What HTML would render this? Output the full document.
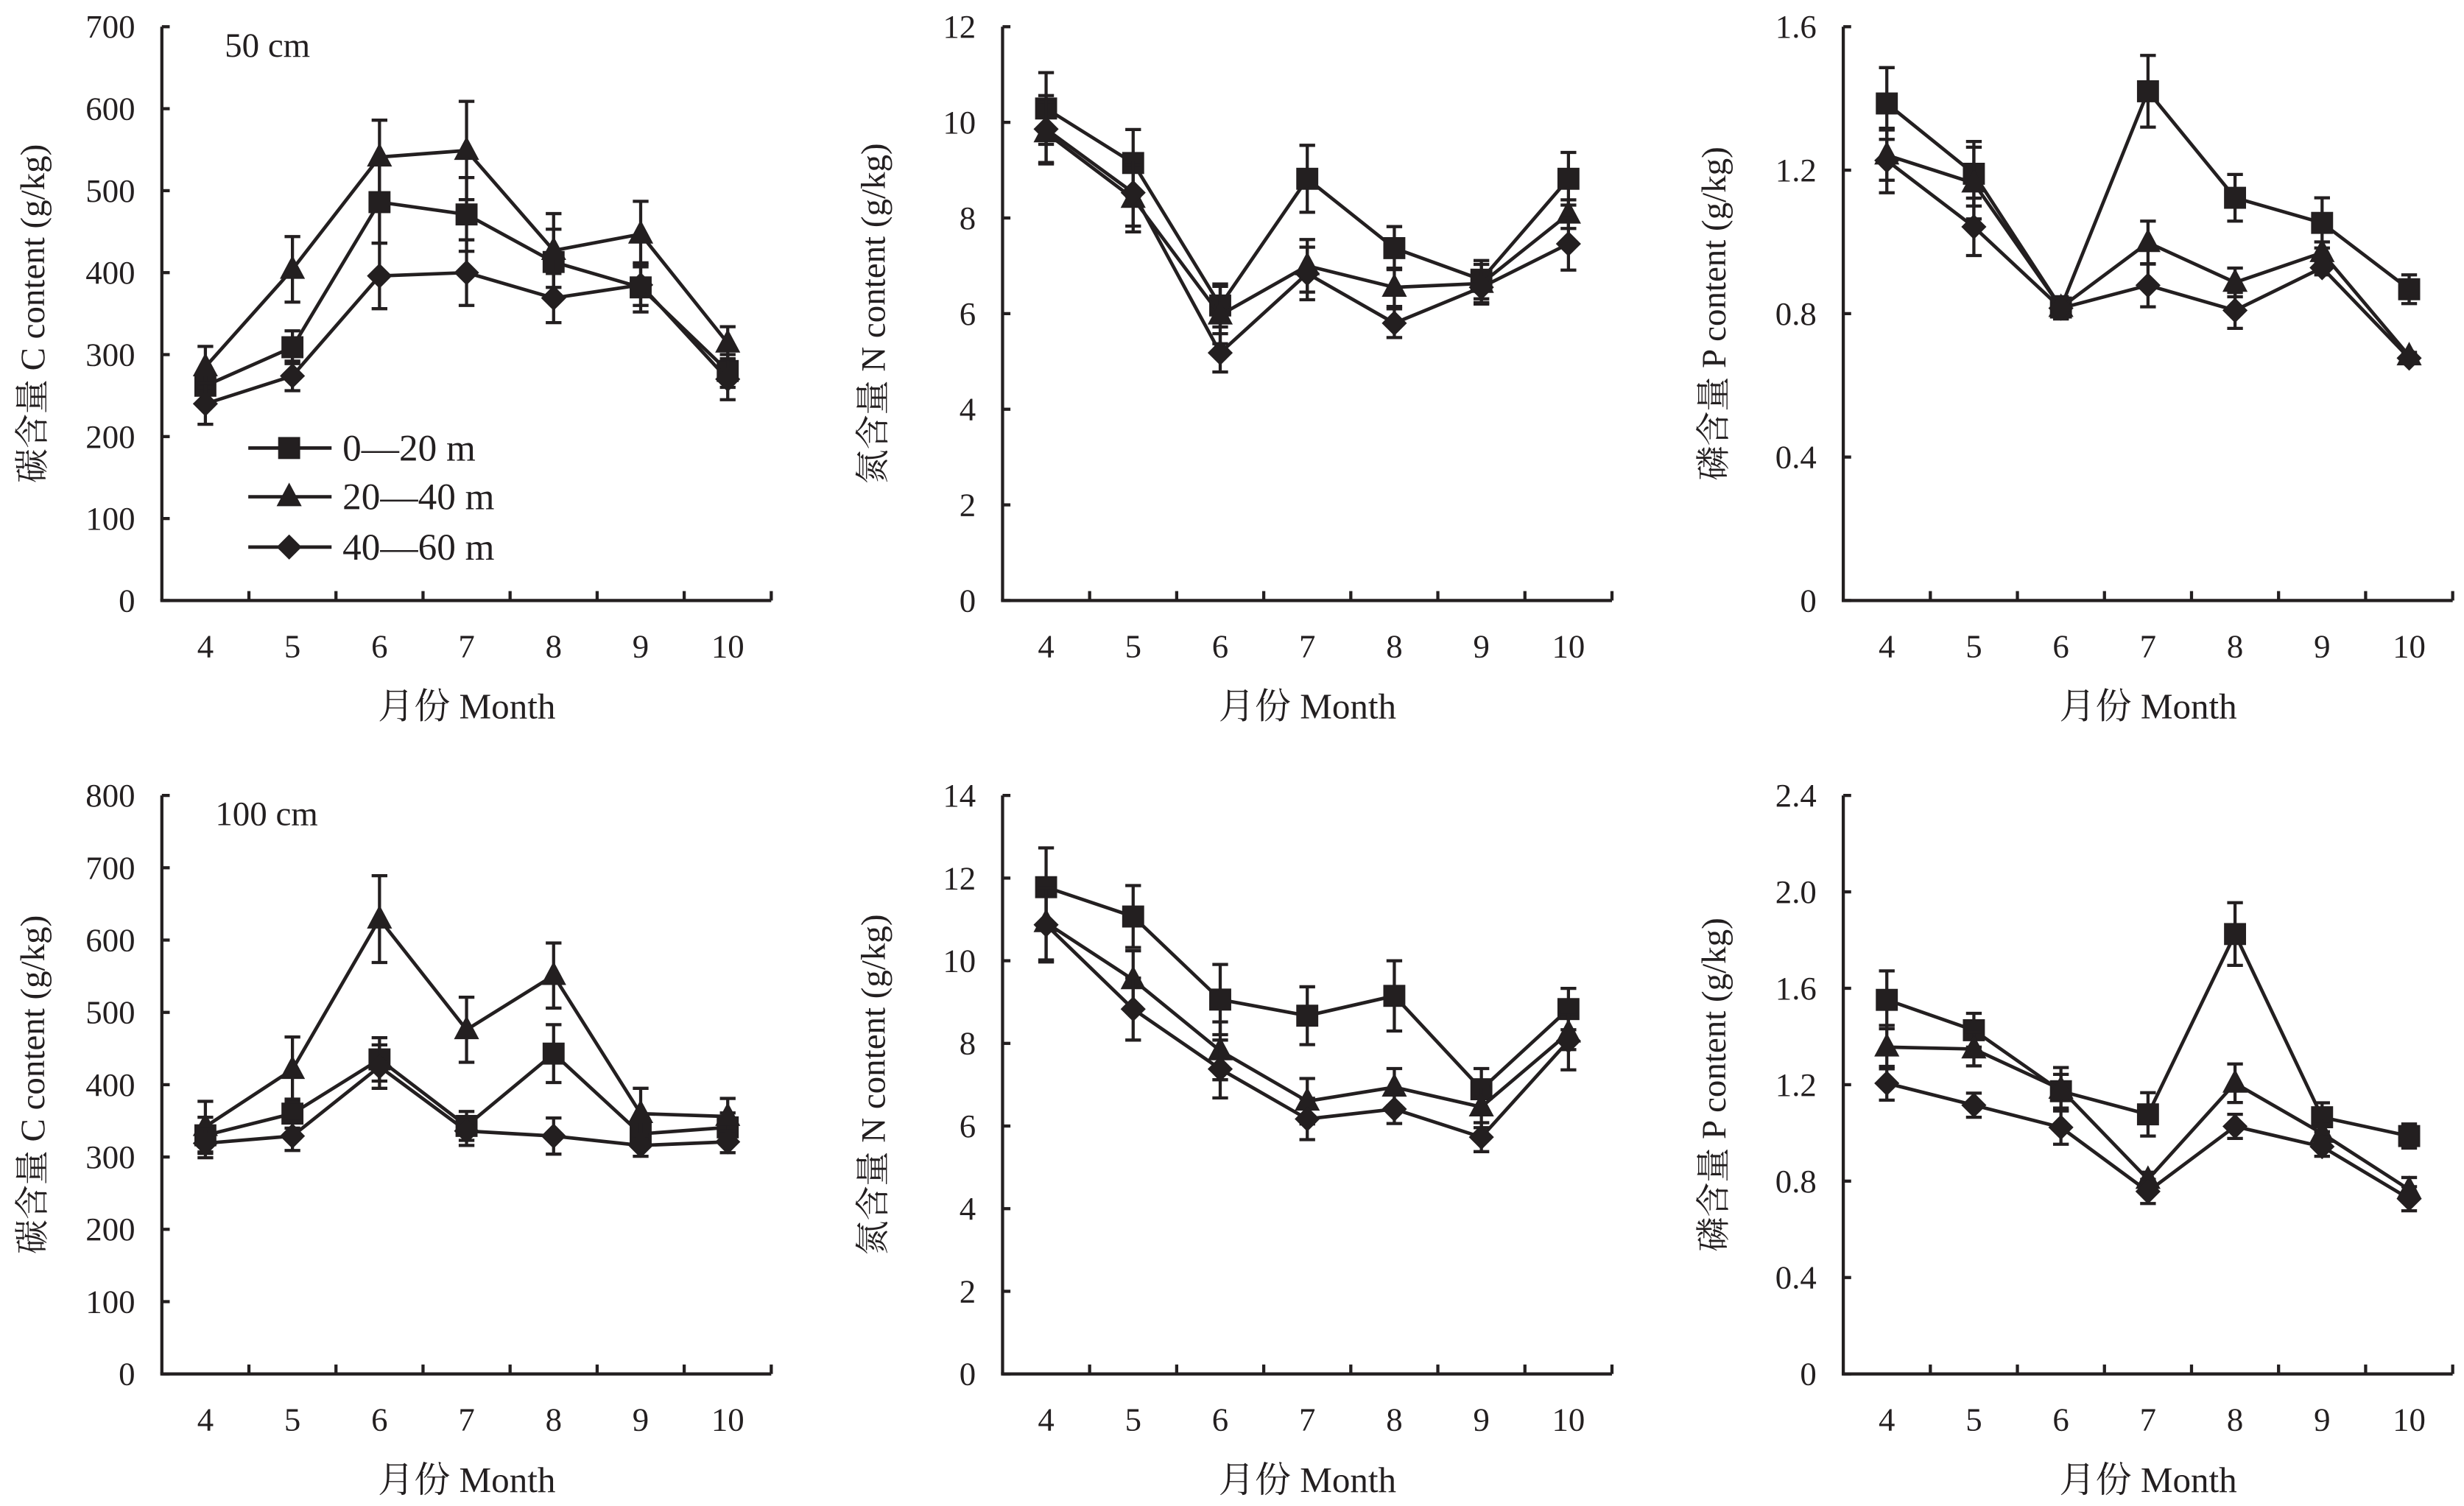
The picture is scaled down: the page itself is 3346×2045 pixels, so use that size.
<!DOCTYPE html>
<html><head><meta charset="utf-8">
<style>
html,body{margin:0;padding:0;background:#fff;}
svg{display:block;}
text{font-family:"Liberation Serif","Noto Serif CJK SC",serif;fill:#231f20;}
</style></head>
<body>
<svg id="chart" width="3346" height="2045" viewBox="0 0 1568 958" preserveAspectRatio="none" xmlns="http://www.w3.org/2000/svg"></svg>
<script>
const months = [4,5,6,7,8,9,10];
// C 50 cm
const c50Sq  = [262,309,486,471,413,382,280];
const c50Tri = [285,404,541,549,427,447,314];
const c50Dia = [240,274,396,400,369,385,270];
const c50SqErr  = [20,20,50,45,40,30,20];
const c50TriErr = [25,40,45,60,45,40,20];
const c50DiaErr = [25,18,40,40,30,25,25];
// N 50 cm
const n50Sq  = [10.29,9.15,6.17,8.82,7.37,6.71,8.82];
const n50Tri = [9.78,8.41,5.97,7.0,6.55,6.63,8.08];
const n50Dia = [9.86,8.53,5.18,6.84,5.8,6.55,7.46];
const n50SqErr  = [0.75,0.7,0.45,0.7,0.45,0.4,0.55];
const n50TriErr = [0.65,0.7,0.6,0.55,0.4,0.4,0.3];
const n50DiaErr = [0.7,0.7,0.4,0.55,0.3,0.35,0.55];
// P 50 cm
const p50Sq  = [1.386,1.19,0.817,1.42,1.123,1.053,0.868];
const p50Tri = [1.242,1.164,0.817,0.998,0.887,0.97,0.682];
const p50Dia = [1.227,1.042,0.815,0.879,0.809,0.928,0.676];
const p50SqErr  = [0.1,0.09,0.03,0.1,0.065,0.07,0.04];
const p50TriErr = [0.07,0.1,0.03,0.06,0.04,0.03,0.01];
const p50DiaErr = [0.09,0.08,0.03,0.06,0.05,0.02,0.01];
// C 100 cm
const c100Sq  = [330,360,435,343,443,332,341];
const c100Tri = [342,421,629,476,551,360,356];
const c100Dia = [319,329,425,336,329,316,321];
const c100SqErr  = [25,20,30,20,40,20,20];
const c100TriErr = [35,45,60,45,45,35,25];
const c100DiaErr = [20,20,30,20,25,15,15];
// N 100 cm
const n100Sq  = [11.78,11.07,9.06,8.67,9.15,6.89,8.83];
const n100Tri = [10.92,9.54,7.82,6.6,6.94,6.46,8.25];
const n100Dia = [10.87,8.83,7.38,6.17,6.41,5.73,8.06];
const n100SqErr  = [0.95,0.75,0.85,0.7,0.85,0.5,0.5];
const n100TriErr = [0.9,0.7,0.7,0.55,0.45,0.5,0.4];
const n100DiaErr = [0.9,0.75,0.7,0.5,0.35,0.35,0.7];
// P 100 cm
const p100Sq  = [1.552,1.426,1.173,1.077,1.825,1.065,0.987];
const p100Tri = [1.356,1.348,1.181,0.807,1.206,0.998,0.765];
const p100Dia = [1.206,1.115,1.023,0.757,1.027,0.943,0.727];
const p100SqErr  = [0.12,0.07,0.07,0.09,0.13,0.06,0.05];
const p100TriErr = [0.09,0.07,0.09,0.03,0.08,0.05,0.05];
const p100DiaErr = [0.07,0.05,0.07,0.05,0.05,0.04,0.05];

const cTicks50 = ["0","100","200","300","400","500","600","700"];
const nTicks50 = ["0","2","4","6","8","10","12"];
const pTicks50 = ["0","0.4","0.8","1.2","1.6"];
const cTicks100 = ["0","100","200","300","400","500","600","700","800"];
const nTicks100 = ["0","2","4","6","8","10","12","14"];
const pTicks100 = ["0","0.4","0.8","1.2","1.6","2.0","2.4"];

const NS="http://www.w3.org/2000/svg";
const svg=document.getElementById('chart');
const INK="#231f20";
const FONT='"Liberation Serif","Noto Serif CJK SC",serif';
function mk(tag,attrs,parent){const e=document.createElementNS(NS,tag);for(const k in attrs)e.setAttribute(k,attrs[k]);if(tag==='text')e.setAttribute('font-family',FONT);(parent||svg).appendChild(e);return e;}

function panel(o){
  const g=mk('g',{});
  
  
  const step=55.4, x0=o.ax, right=x0+step*7;
  const ymax=parseFloat(o.ticks[o.ticks.length-1]);
  const X=i=>x0+step*(i+0.5);
  const Y=v=>o.bot-(v/ymax)*(o.bot-o.top);
  const ya=mk('line',{x1:x0,y1:o.top,x2:x0,y2:o.bot,stroke:INK,'stroke-width':2},g);
  
  
  const xa=mk('line',{x1:x0-1,y1:o.bot,x2:right,y2:o.bot,stroke:INK,'stroke-width':2},g);
  
  
  o.ticks.forEach(t=>{
    const y=Y(parseFloat(t));
    mk('line',{x1:x0,y1:y,x2:x0+5,y2:y,stroke:INK,'stroke-width':2},g);
    const tx=mk('text',{x:x0-17,y:y+7,'text-anchor':'end','font-size':21},g);
    tx.textContent=t;
    
    
  });
  for(let i=1;i<=7;i++){mk('line',{x1:x0+step*i,y1:o.bot,x2:x0+step*i,y2:o.bot-6,stroke:INK,'stroke-width':2},g);}
  months.forEach((m,i)=>{
    const tx=mk('text',{x:X(i),y:o.bot+36,'text-anchor':'middle','font-size':21},g);
    tx.textContent=m;
    
    
  });
  const xt=mk('text',{x:x0+194,y:o.bot+75,'text-anchor':'middle','font-size':23},g);
  xt.textContent='月份 Month';
  
  
  const cy=(o.top+o.bot)/2;
  const yt=mk('text',{x:0,y:0,'text-anchor':'middle','font-size':22,transform:`translate(${x0-75},${cy}) rotate(-90)`},g);
  yt.textContent=o.ytitle;
  
  
  if(o.label){
    const lb=mk('text',{x:o.lx,y:o.top+19,'font-size':22},g);
    lb.textContent=o.label;
    
    
  }
  const series=[['square',o.sq,o.sqe],['triangle',o.tri,o.trie],['diamond',o.dia,o.diae]];
  series.forEach(([shape,vals,errs])=>{
    const sg=mk('g',{},g);
    
    
    vals.forEach((v,i)=>{
      const x=X(i),y1=Y(v+errs[i]),y2=Y(v-errs[i]);
      mk('line',{x1:x,y1:y1,x2:x,y2:y2,stroke:INK,'stroke-width':2},sg);
      mk('line',{x1:x-5,y1:y1,x2:x+5,y2:y1,stroke:INK,'stroke-width':2},sg);
      mk('line',{x1:x-5,y1:y2,x2:x+5,y2:y2,stroke:INK,'stroke-width':2},sg);
    });
    const pts=vals.map((v,i)=>X(i)+','+Y(v)).join(' ');
    const pl=mk('polyline',{points:pts,fill:'none',stroke:INK,'stroke-width':2.2},sg);
    
    
    vals.forEach((v,i)=>{const m=marker(shape,X(i),Y(v),sg);
      
      });
  });
}
function marker(shape,x,y,p){
  if(shape==='square')return mk('rect',{x:x-7,y:y-7,width:14,height:14,fill:INK},p);
  if(shape==='triangle')return mk('polygon',{points:`${x},${y-9} ${x-8},${y+6} ${x+8},${y+6}`,fill:INK},p);
  return mk('polygon',{points:`${x},${y-8} ${x+8},${y} ${x},${y+8} ${x-8},${y}`,fill:INK},p);
}
const R1={top:17,bot:382}, R2={top:506,bot:874};
panel({name:'panel-c-50',ax:103,...R1,ticks:cTicks50,ytitle:'碳含量 C content (g/kg)',label:'50 cm',lx:143,sq:c50Sq,tri:c50Tri,dia:c50Dia,sqe:c50SqErr,trie:c50TriErr,diae:c50DiaErr});
panel({name:'panel-n-50',ax:638,...R1,ticks:nTicks50,ytitle:'氮含量 N content (g/kg)',sq:n50Sq,tri:n50Tri,dia:n50Dia,sqe:n50SqErr,trie:n50TriErr,diae:n50DiaErr});
panel({name:'panel-p-50',ax:1173,...R1,ticks:pTicks50,ytitle:'磷含量 P content (g/kg)',sq:p50Sq,tri:p50Tri,dia:p50Dia,sqe:p50SqErr,trie:p50TriErr,diae:p50DiaErr});
panel({name:'panel-c-100',ax:103,...R2,ticks:cTicks100,ytitle:'碳含量 C content (g/kg)',label:'100 cm',lx:137,sq:c100Sq,tri:c100Tri,dia:c100Dia,sqe:c100SqErr,trie:c100TriErr,diae:c100DiaErr});
panel({name:'panel-n-100',ax:638,...R2,ticks:nTicks100,ytitle:'氮含量 N content (g/kg)',sq:n100Sq,tri:n100Tri,dia:n100Dia,sqe:n100SqErr,trie:n100TriErr,diae:n100DiaErr});
panel({name:'panel-p-100',ax:1173,...R2,ticks:pTicks100,ytitle:'磷含量 P content (g/kg)',sq:p100Sq,tri:p100Tri,dia:p100Dia,sqe:p100SqErr,trie:p100TriErr,diae:p100DiaErr});
const legendLabels=['0—20 m','20—40 m','40—60 m'];
const legendShapes=['square','triangle','diamond'];
const legendY=[285,316,348];
const lg=mk('g',{});


legendLabels.forEach((t,i)=>{
  const e=mk('g',{},lg);
  
  
  mk('line',{x1:158,y1:legendY[i],x2:211,y2:legendY[i],stroke:INK,'stroke-width':2.2},e);
  marker(legendShapes[i],184,legendY[i],e);
  const tx=mk('text',{x:218,y:legendY[i]+8,'font-size':24},e);
  tx.textContent=t;
});
</script>
</body></html>
